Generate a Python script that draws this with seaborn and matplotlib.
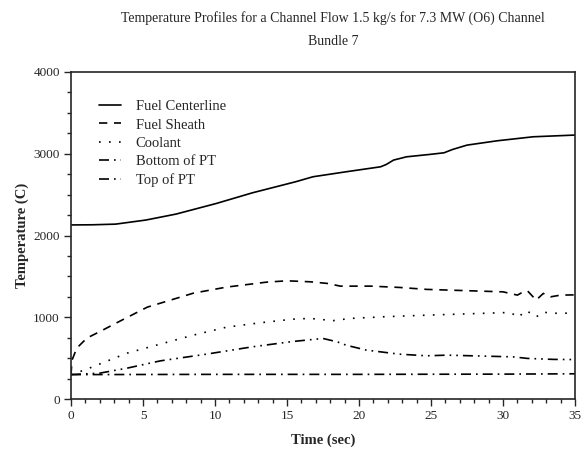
import matplotlib
matplotlib.use("Agg")
import matplotlib.pyplot as plt
import seaborn as sns
import pandas as pd
from matplotlib.ticker import MultipleLocator

sns.set_style("ticks")
plt.rcParams['font.family'] = ['Liberation Serif', 'DejaVu Serif']

# dados (tempo em s, temperatura em C)
t_centro = [0, 1.5, 3.1, 5.2, 7.3, 10.1, 12.6, 15.6, 16.8, 19.1, 21.5, 21.9, 22.4, 23.3, 24.9, 25.9, 26.5, 27.5, 29.6, 32.1, 35]
T_centro = [2130, 2132, 2140, 2190, 2263, 2393, 2523, 2658, 2719, 2780, 2841, 2870, 2923, 2963, 2992, 3012, 3053, 3106, 3159, 3208, 3229]

t_bainha = [0, 0.07, 0.4, 1.1, 2.2, 3.3, 5.3, 8.5, 10.8, 13.6, 15.0, 16.6, 17.8, 18.7, 20.8, 22.8, 24.7, 30.0, 31.0, 31.4, 31.7, 32.3, 32.8, 33.3, 34.0, 35]
T_bainha = [300, 477, 624, 746, 844, 945, 1125, 1296, 1370, 1431, 1447, 1435, 1415, 1382, 1382, 1366, 1342, 1312, 1272, 1312, 1324, 1211, 1293, 1251, 1272, 1275]

t_refrig = [0, 1.0, 2.2, 3.9, 6.2, 8.5, 10.8, 13.1, 15.4, 16.6, 18.2, 19.4, 21.7, 24.7, 28.4, 30.5, 31.1, 31.5, 32.0, 32.3, 32.8, 33.3, 35]
T_refrig = [300, 360, 444, 563, 673, 783, 880, 933, 978, 987, 960, 987, 1007, 1027, 1048, 1060, 1000, 1080, 1050, 1005, 1065, 1050, 1052]

t_base = [0, 10, 20, 30, 35]
T_base = [300, 303, 303, 306, 310]

t_topo = [0, 2.0, 3.9, 6.2, 9.4, 12.6, 15.4, 17.5, 18.5, 19.1, 20.5, 22.8, 24.7, 26.1, 30.7, 31.7, 33.5, 35]
T_topo = [300, 318, 379, 468, 550, 640, 705, 742, 700, 660, 600, 550, 530, 538, 517, 498, 486, 484]

series = [
    ("Fuel Centerline", t_centro, T_centro, "-"),
    ("Fuel Sheath", t_bainha, T_bainha, (0, (5, 4))),
    ("Coolant", t_refrig, T_refrig, (0, (1, 5))),
    ("Bottom of PT", t_base, T_base, (0, (6, 3, 1, 3))),
    ("Top of PT", t_topo, T_topo, (0, (6, 3, 1, 3, 1, 3))),
]

fig = plt.figure(figsize=(5.82, 4.5), dpi=100)
ax = fig.add_axes([0.122, 0.113, 0.866, 0.727])

for nome, t, T, estilo in series:
    df = pd.DataFrame({"t": t, "T": T})
    sns.lineplot(data=df, x="t", y="T", ax=ax, color="black", linestyle=estilo,
                 linewidth=1.2, label=nome)

ax.set_xlim(0, 35)
ax.set_ylim(0, 4000)
ax.xaxis.set_major_locator(MultipleLocator(5))
ax.xaxis.set_minor_locator(MultipleLocator(1))
ax.yaxis.set_major_locator(MultipleLocator(1000))
ax.yaxis.set_minor_locator(MultipleLocator(250))
ax.tick_params(which="major", length=5, width=1, labelsize=9.5, direction="out", pad=3)
ax.tick_params(which="minor", length=3, width=1, direction="out")
for s in ax.spines.values():
    s.set_linewidth(1.2)
    s.set_visible(True)

ax.set_xlabel("Time (sec)", fontsize=10.5, fontweight="bold", labelpad=8)
ax.set_ylabel("Temperature (C)", fontsize=10.5, fontweight="bold", labelpad=3)

ax.legend(loc="upper left", bbox_to_anchor=(0.03, 0.955), frameon=False, fontsize=10.5,
          handlelength=1.5, handletextpad=1.0, labelspacing=0.36)

fig.text(0.572, 0.975, "Temperature Profiles for a Channel Flow 1.5 kg/s for 7.3 MW (O6) Channel\nBundle 7",
         ha="center", va="top", fontsize=10, linespacing=1.95)

fig.savefig("out.png", dpi=100)
